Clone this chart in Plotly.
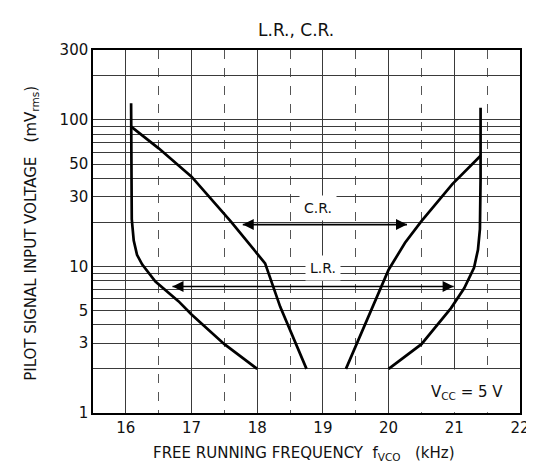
import numpy as np
import plotly.graph_objects as go

# ---- data (kHz, mVrms) ----
lr_left_f = [16.08, 16.08, 16.08, 16.09, 16.12, 16.17, 16.25, 16.45, 16.8, 17.0, 17.5, 18.0]
lr_left_v = [130, 60, 30, 21, 15, 12, 10.3, 7.9, 5.8, 4.7, 2.95, 2.0]

cr_left_f = [16.08, 16.5, 17.0, 17.6, 18.12, 18.35, 18.75]
cr_left_v = [90, 64, 41, 20.2, 10.5, 5.3, 2.0]

cr_right_f = [19.35, 19.75, 20.0, 20.25, 20.5, 20.97, 21.4]
cr_right_v = [2.0, 5.2, 9.5, 14.5, 20.4, 36.5, 57]

lr_right_f = [20.0, 20.5, 20.95, 21.15, 21.3, 21.36, 21.39, 21.4, 21.4]
lr_right_v = [2.0, 2.95, 5.2, 7.1, 9.8, 13, 18, 40, 121]

cr_arrow_f = [17.78, 20.28]
cr_arrow_v = [19.3, 19.3]
lr_arrow_f = [16.71, 20.99]
lr_arrow_v = [7.3, 7.3]

# blank cell holding the supply-voltage note
note_box_f = [20.015, 21.985, 21.985, 20.015, 20.015]
note_box_v = [1.012, 1.012, 1.98, 1.98, 1.012]

x_ticks = [16, 17, 18, 19, 20, 21, 22]
x_minor = [16.5, 17.5, 18.5, 19.5, 20.5, 21.5]
y_ticks = [1, 3, 5, 10, 30, 50, 100, 300]
y_ticklabels = ["1", "3", "5", "10", "30", "50", "100", "300"]
y_minor = [2, 4, 6, 7, 8, 9, 20, 40, 60, 70, 80, 90, 200]

FONT = "DejaVu Sans"
INK = "#111"
GRID = "#3a3a3a"

fig = go.Figure()

# white cell (drawn above the grid, below axis lines and text)
fig.add_trace(go.Scatter(x=note_box_f, y=note_box_v, mode="lines", fill="toself",
                         fillcolor="white", line=dict(width=0, color="white"),
                         hoverinfo="skip", showlegend=False))

for f, v in [(lr_left_f, lr_left_v), (cr_left_f, cr_left_v),
             (cr_right_f, cr_right_v), (lr_right_f, lr_right_v)]:
    fig.add_trace(go.Scatter(x=f, y=v, mode="lines",
                             line=dict(color="black", width=2.7),
                             hoverinfo="skip", showlegend=False))

# double-headed arrows
for f, v in [(cr_arrow_f, cr_arrow_v), (lr_arrow_f, lr_arrow_v)]:
    fig.add_trace(go.Scatter(x=f, y=v, mode="lines+markers",
                             line=dict(color="black", width=1.6),
                             marker=dict(symbol=["arrow-left", "arrow-right"], size=11,
                                         color="black", line=dict(width=0)),
                             hoverinfo="skip", showlegend=False))

# range labels
fig.add_annotation(x=18.93, y=np.log10(25), text="C.R.", showarrow=False,
                   font=dict(family=FONT, size=14, color=INK),
                   bgcolor="white", borderpad=4)
fig.add_annotation(x=19.0, y=np.log10(9.8), text="L.R.", showarrow=False,
                   font=dict(family=FONT, size=14, color=INK),
                   bgcolor="white", borderpad=4)

fig.add_annotation(x=21.2, y=np.log10(1.37), text="V<sub>CC</sub> = 5 V", showarrow=False,
                   font=dict(family=FONT, size=15, color=INK))

# titles
fig.add_annotation(xref="paper", yref="paper", x=(290 - 85) / 432, y=1 + (42 - 22) / 363,
                   text="L.R., C.R.", showarrow=False, xanchor="center", yanchor="middle",
                   font=dict(family=FONT, size=17, color=INK))
fig.add_annotation(xref="paper", yref="paper", x=(298 - 85) / 432, y=-(445 - 405) / 363,
                   text="FREE RUNNING FREQUENCY\u00a0\u00a0f<sub>VCO</sub>\u00a0\u00a0\u00a0(kHz)",
                   showarrow=False, xanchor="center", yanchor="middle",
                   font=dict(family=FONT, size=15, color=INK))
fig.add_annotation(xref="paper", yref="paper", x=-(85 - 22) / 432, y=(405 - 225) / 363,
                   text="PILOT SIGNAL INPUT VOLTAGE\u00a0\u00a0\u00a0(mV<sub>rms</sub>)",
                   showarrow=False, textangle=-90, xanchor="center", yanchor="middle",
                   font=dict(family=FONT, size=15, color=INK))

fig.update_layout(
    width=534, height=466,
    margin=dict(l=85, r=17, t=42, b=61),
    paper_bgcolor="white", plot_bgcolor="white",
    showlegend=False,
    xaxis=dict(range=[15.5, 22], tickvals=x_ticks, ticks="", showgrid=True,
               gridcolor=GRID, gridwidth=1, zeroline=False,
               showline=True, linecolor="black", linewidth=1.5, mirror=True,
               tickfont=dict(family=FONT, size=15, color=INK),
               minor=dict(tickvals=x_minor, showgrid=True, gridcolor="#555",
                          gridwidth=1, griddash="dash")),
    yaxis=dict(type="log", range=[0, np.log10(300)], tickvals=y_ticks,
               ticktext=y_ticklabels, ticks="", showgrid=True,
               gridcolor=GRID, gridwidth=1, zeroline=False,
               showline=True, linecolor="black", linewidth=1.5, mirror=True,
               tickfont=dict(family=FONT, size=15, color=INK),
               minor=dict(tickvals=y_minor, showgrid=True, gridcolor=GRID, gridwidth=1)),
)

fig.write_html("out.html")
